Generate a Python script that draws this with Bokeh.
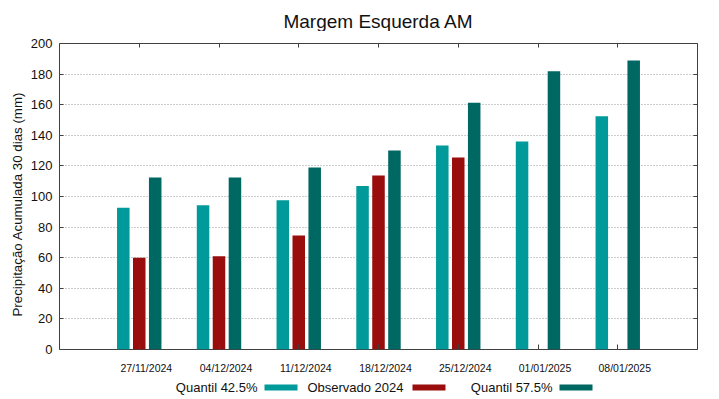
from bokeh.plotting import figure
from bokeh.models import (ColumnDataSource, Range1d, FixedTicker, LinearAxis, Title,
                          CustomLabelingPolicy)
from bokeh.layouts import column
from bokeh.core.properties import value
from bokeh.embed import file_html
from bokeh.resources import INLINE

# ---- data ----
dates = ["27/11/2024", "04/12/2024", "11/12/2024", "18/12/2024",
         "25/12/2024", "01/01/2025", "08/01/2025"]
q425 = [92.7, 94.2, 97.5, 106.8, 133.3, 136.0, 152.4]
obs2024 = [60.0, 61.0, 74.5, 113.8, 125.5]
q575 = [112.5, 112.5, 119.0, 130.0, 161.3, 181.8, 188.9]
series_names = ["Quantil 42.5%", "Observado 2024", "Quantil 57.5%"]
y_ticks = [0, 20, 40, 60, 80, 100, 120, 140, 160, 180, 200]
chart_title = "Margem Esquerda AM"
y_title = "Precipitação Acumulada 30 dias (mm)"

C_TEAL = "#009a9a"
C_RED = "#990d0d"
C_DARK = "#006863"
colors = [C_TEAL, C_RED, C_DARK]
FONT = "Liberation Sans"
TXT = "#111111"
AX = "#404040"

idx = list(range(len(dates)))
src_a = ColumnDataSource(dict(x=[i - 0.2 for i in idx], top=q425))
src_b = ColumnDataSource(dict(x=[i for i in range(len(obs2024))], top=obs2024))
src_c = ColumnDataSource(dict(x=[i + 0.2 for i in idx], top=q575))

W = 717
H_TOP = 31
TOP_BORDER = 12
H_MAIN = TOP_BORDER + 307 + 26
H_LEG = 21
BL, BR = 59, 20

# ---- title strip ----
top = figure(width=W, height=H_TOP, x_range=Range1d(BL, W - BR), y_range=Range1d(0, H_TOP),
             toolbar_location=None, output_backend="svg", min_border=0,
             min_border_left=BL, min_border_right=BR,
             x_axis_location=None, y_axis_location=None)
top.outline_line_color = None
top.grid.visible = False
top.text(x=[(BL + W - BR) / 2], y=[H_TOP - 20.7], text=[chart_title], text_align="center",
         text_baseline="alphabetic", text_font=value(FONT), text_font_size="19px",
         text_color=TXT)

# ---- main chart ----
p = figure(width=W, height=H_MAIN, x_range=Range1d(-1, 7), y_range=Range1d(0, 200),
           toolbar_location=None, output_backend="svg",
           x_axis_location=None, y_axis_location="left",
           min_border_left=BL, min_border_right=BR, min_border_top=TOP_BORDER,
           min_border_bottom=26)

bw = 0.157
p.vbar(x="x", top="top", width=bw, bottom=0, source=src_a, fill_color=C_TEAL, line_color=None)
p.vbar(x="x", top="top", width=bw, bottom=0, source=src_b, fill_color=C_RED, line_color=None)
p.vbar(x="x", top="top", width=bw, bottom=0, source=src_c, fill_color=C_DARK, line_color=None)

p.outline_line_color = AX
p.outline_line_width = 1


def hide_labels(ax):
    ax.major_label_policy = CustomLabelingPolicy(code="if (false) { yield 0 }")
    ax.major_label_text_font_size = "1px"
    ax.major_label_standoff = 0
    ax.major_tick_out = 0
    ax.minor_tick_line_color = None
    ax.axis_line_color = None
    ax.major_tick_line_color = AX


# y axis
ya = p.yaxis[0]
ya.ticker = FixedTicker(ticks=y_ticks)
ya.major_label_text_font = FONT
ya.major_label_text_font_size = "13px"
ya.major_label_text_color = TXT
ya.major_label_standoff = 7
ya.major_tick_in = 4
ya.major_tick_out = 0
ya.minor_tick_line_color = None
ya.axis_line_color = None
ya.major_tick_line_color = AX

# y axis title, placed (like the original) a little below the frame centre
ytitle = Title(text=y_title, align="left", offset=33, standoff=5,
               text_font=FONT, text_font_size="13.3px", text_font_style="normal",
               text_color=TXT)
p.add_layout(ytitle, "left")

# grid
p.xgrid.visible = False
p.ygrid.ticker = FixedTicker(ticks=y_ticks)
p.ygrid.grid_line_color = "#9a9a9a"
p.ygrid.grid_line_dash = "1 2"
p.ygrid.grid_line_width = 1

# bottom tick marks (at group centres)
bt = LinearAxis(ticker=FixedTicker(ticks=idx))
hide_labels(bt)
bt.major_tick_in = 5
p.add_layout(bt, "below")

# bottom labels
shift = 0.088
bl = LinearAxis(ticker=FixedTicker(ticks=[i + shift for i in idx]))
bl.major_label_overrides = {i + shift: d for i, d in zip(idx, dates)}
bl.major_label_text_font = FONT
bl.major_label_text_font_size = "10.5px"
bl.major_label_text_color = TXT
bl.major_label_standoff = 2
bl.major_tick_line_color = None
bl.minor_tick_line_color = None
bl.axis_line_color = None
p.add_layout(bl, "below")

# top mirror ticks
ta = LinearAxis(ticker=FixedTicker(ticks=idx))
hide_labels(ta)
ta.major_tick_in = 4
p.add_layout(ta, "above")

# right mirror ticks
ra = LinearAxis(ticker=FixedTicker(ticks=y_ticks))
hide_labels(ra)
ra.major_tick_in = 4
p.add_layout(ra, "right")

# ---- legend strip (gnuplot style: text then sample) ----
leg = figure(width=W, height=H_LEG, x_range=Range1d(BL, W - BR), y_range=Range1d(0, H_LEG),
             toolbar_location=None, output_backend="svg", min_border=0,
             min_border_left=BL, min_border_right=BR,
             x_axis_location=None, y_axis_location=None)
leg.outline_line_color = None
leg.grid.visible = False
text_end = [257, 403, 552]
sample_x0 = [264, 412, 559]
sample_w = 33
ly = 10
leg.text(x=text_end, y=[ly] * 3, text=series_names, text_align="right",
         text_baseline="middle", text_font=value(FONT), text_font_size="13px",
         text_color=TXT)
leg.rect(x=[s + sample_w / 2 for s in sample_x0], y=[ly] * 3, width=sample_w, height=6,
         fill_color=colors, line_color=None)

layout = column(top, p, leg, spacing=0)
open("out.html", "w").write(file_html(layout, INLINE))
